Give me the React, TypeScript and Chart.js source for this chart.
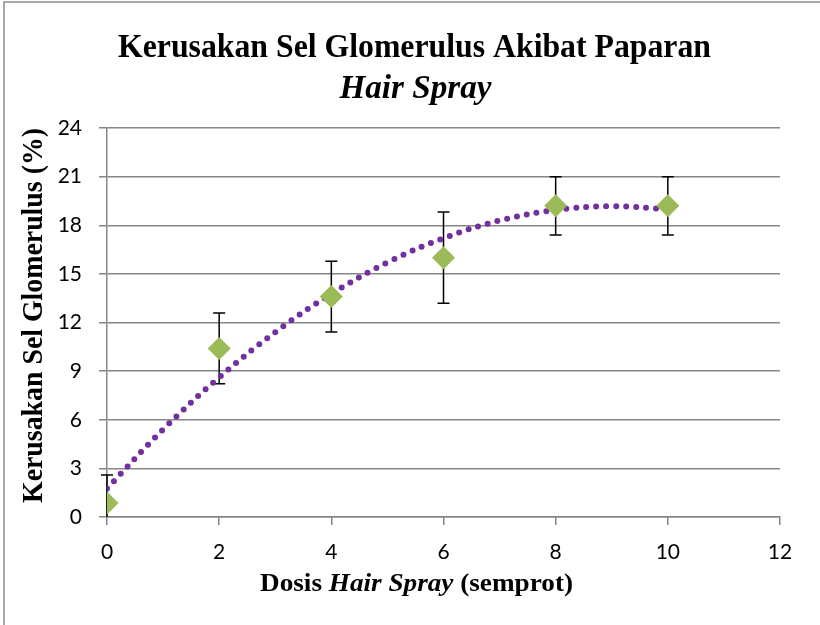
import React, { useEffect, useRef } from "react";
import { Chart, registerables } from "chart.js";

Chart.register(...registerables);

// ---- data ----
const doses = [0, 2, 4, 6, 8, 10];
const damage = [0.86, 10.4, 13.6, 16.0, 19.2, 19.2];
const errors = [1.73, 2.18, 2.18, 2.82, 1.8, 1.8];

// trendline (polynomial)
const trendX = [0, 1, 2, 3, 4, 5, 6, 7, 8, 9, 10];
const trendY = [1.76, 5.4, 8.61, 11.4, 13.76, 15.7, 17.2, 18.29, 18.94, 19.17, 18.98];

const xTicks = [0, 2, 4, 6, 8, 10, 12];
const yTicks = [0, 3, 6, 9, 12, 15, 18, 21, 24];

const titleLine1 = "Kerusakan Sel Glomerulus Akibat Paparan";
const titleLine2 = "Hair Spray";
const xTitleParts = [
  { text: "Dosis ", italic: false },
  { text: "Hair Spray", italic: true },
  { text: " (semprot)", italic: false },
];
const yTitle = "Kerusakan Sel Glomerulus (%)";

const SERIF = "'Liberation Serif', 'Times New Roman', serif";
const SANS = "Lato, 'Open Sans', sans-serif";

function drawParts(
  ctx: CanvasRenderingContext2D,
  parts: { text: string; italic: boolean }[],
  size: number,
  cx: number,
  baseline: number,
  targetWidth: number
) {
  const widths = parts.map((p) => {
    ctx.font = `${p.italic ? "italic " : ""}bold ${size}px ${SERIF}`;
    return ctx.measureText(p.text).width;
  });
  const total = widths.reduce((a, b) => a + b, 0);
  const sx = targetWidth / total;
  ctx.save();
  ctx.translate(cx - targetWidth / 2, baseline);
  ctx.scale(sx, 1);
  ctx.textBaseline = "alphabetic";
  ctx.textAlign = "left";
  ctx.fillStyle = "#000";
  let x = 0;
  parts.forEach((p, i) => {
    ctx.font = `${p.italic ? "italic " : ""}bold ${size}px ${SERIF}`;
    ctx.fillText(p.text, x, 0);
    x += widths[i];
  });
  ctx.restore();
}

const decorPlugin = {
  id: "decor",
  beforeDatasetsDraw(chart: any) {
    const { ctx, chartArea } = chart;
    const xs = chart.scales.x;
    const ys = chart.scales.y;
    ctx.save();
    ctx.beginPath();
    ctx.rect(chartArea.left - 10, chartArea.top - 10, chartArea.right - chartArea.left + 20, chartArea.bottom - chartArea.top + 10);
    ctx.clip();
    ctx.strokeStyle = "#000";
    ctx.lineWidth = 1.5;
    doses.forEach((d, i) => {
      const x = xs.getPixelForValue(d);
      const yTop = ys.getPixelForValue(damage[i] + errors[i]);
      const yBot = ys.getPixelForValue(damage[i] - errors[i]);
      ctx.beginPath();
      ctx.moveTo(x, yTop);
      ctx.lineTo(x, yBot);
      ctx.moveTo(x - 6, yTop);
      ctx.lineTo(x + 6, yTop);
      ctx.moveTo(x - 6, yBot);
      ctx.lineTo(x + 6, yBot);
      ctx.stroke();
    });
    ctx.restore();
  },
  afterDraw(chart: any) {
    const { ctx } = chart;
    // outer frame
    ctx.save();
    ctx.strokeStyle = "#8c8c8c";
    ctx.lineWidth = 1.5;
    ctx.strokeRect(4, 2, 830, 640);
    ctx.restore();
    // titles
    drawParts(ctx, [{ text: titleLine1, italic: false }], 34, 414.5, 57, 593);
    drawParts(ctx, [{ text: titleLine2, italic: true }], 33, 415.5, 98, 152);
    drawParts(ctx, xTitleParts, 26, 416.5, 591, 313);
    ctx.save();
    ctx.translate(42, 315.5);
    ctx.rotate(-Math.PI / 2);
    drawParts(ctx, [{ text: yTitle, italic: false }], 29, 0, 0, 375);
    ctx.restore();
  },
};

export default function App() {
  const ref = useRef<HTMLCanvasElement | null>(null);
  useEffect(() => {
    if (!ref.current) return;
    const chart = new Chart(ref.current, {
      type: "scatter",
      data: {
        datasets: [
          {
            label: "Data",
            data: doses.map((d, i) => ({ x: d, y: damage[i] })),
            pointStyle: "rectRot",
            pointRadius: 11.5,
            pointHoverRadius: 11.5,
            backgroundColor: "#9BBB59",
            borderColor: "#9BBB59",
            borderWidth: 0,
            showLine: false,
          },
          {
            label: "Trend",
            type: "line",
            data: trendX.map((x, i) => ({ x, y: trendY[i] })),
            borderColor: "#7030A0",
            borderWidth: 6,
            borderDash: [0, 10],
            borderCapStyle: "round",
            pointRadius: 0,
            tension: 0.4,
            fill: false,
          } as any,
        ],
      },
      options: {
        responsive: false,
        animation: false,
        events: [],
        layout: { padding: { left: 0, top: 128, right: 40, bottom: 0 } },
        plugins: {
          legend: { display: false },
          title: { display: false },
          tooltip: { enabled: false },
        },
        scales: {
          x: {
            type: "linear",
            min: 0,
            max: 12,
            afterBuildTicks: (scale: any) => {
              scale.ticks = xTicks.map((v) => ({ value: v }));
            },
            afterFit: (scale: any) => {
              scale.height = 108;
            },
            ticks: {
              color: "#000",
              font: { family: SANS, size: 21 },
              padding: 15,
              maxRotation: 0,
            },
            grid: {
              display: true,
              drawOnChartArea: false,
              drawTicks: true,
              tickLength: 8,
              color: "#868686",
              lineWidth: 1.5,
            },
            border: { display: true, color: "#868686", width: 1.5 },
          },
          y: {
            type: "linear",
            min: 0,
            max: 24,
            afterBuildTicks: (scale: any) => {
              scale.ticks = yTicks.map((v) => ({ value: v }));
            },
            afterFit: (scale: any) => {
              scale.width = 107;
            },
            ticks: {
              color: "#000",
              font: { family: SANS, size: 21 },
              padding: 17,
            },
            grid: {
              display: true,
              drawTicks: true,
              tickLength: 8,
              color: "#868686",
              lineWidth: 1.5,
            },
            border: { display: true, color: "#868686", width: 1.5 },
          },
        },
      },
      plugins: [decorPlugin],
    });
    return () => chart.destroy();
  }, []);
  return (
    <div style={{ position: "fixed", left: 0, top: 0, width: 820, height: 625, background: "#fff" }}>
      <canvas ref={ref} width={820} height={625} style={{ display: "block" }} />
    </div>
  );
}
